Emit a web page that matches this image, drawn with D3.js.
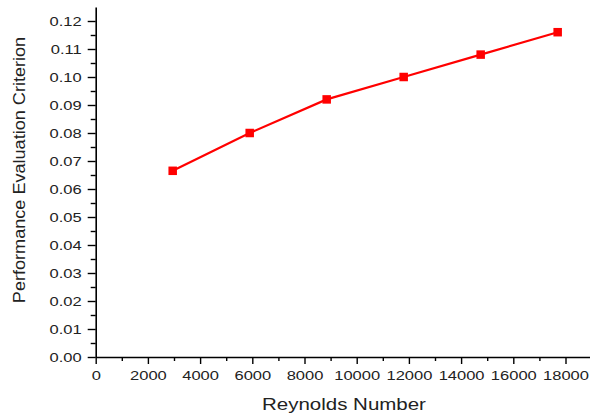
<!DOCTYPE html>
<html>
<head>
<meta charset="utf-8">
<script src="https://cdn.jsdelivr.net/npm/d3@7"></script>
<style>
  html, body { margin: 0; padding: 0; background: #fff; }
  svg { display: block; }
  text { font-family: "Liberation Sans", Arial, sans-serif; fill: #222; }
</style>
</head>
<body>
<svg id="chart" width="590" height="415"></svg>
<script>
// Performance evaluation criterion against Reynolds number
const reynolds = [2950, 5900, 8850, 11800, 14750, 17700];
const pec = [0.0665, 0.0800, 0.0920, 0.1000, 0.1080, 0.1160];

const xTicks = [0, 2000, 4000, 6000, 8000, 10000, 12000, 14000, 16000, 18000];
const xMinor = [1000, 3000, 5000, 7000, 9000, 11000, 13000, 15000, 17000];
const yTicks = [0, 0.01, 0.02, 0.03, 0.04, 0.05, 0.06, 0.07, 0.08, 0.09, 0.10, 0.11, 0.12];
const yMinor = [0.005, 0.015, 0.025, 0.035, 0.045, 0.055, 0.065, 0.075, 0.085, 0.095, 0.105, 0.115];

const xTitle = "Reynolds Number";
const yTitle = "Performance Evaluation Criterion";

const svg = d3.select("#chart");

const x = d3.scaleLinear().domain([0, 19000]).range([95.7, 591.6]);
const y = d3.scaleLinear().domain([0, 0.125]).range([357, 7]);

// widen text horizontally by a factor
function stretch(sel, k) {
  sel.each(function () {
    const w = this.getComputedTextLength();
    d3.select(this).attr("textLength", w * k).attr("lengthAdjust", "spacingAndGlyphs");
  });
}

// minor ticks
svg.append("g")
  .attr("transform", `translate(0,${y(0)})`)
  .call(d3.axisBottom(x).tickValues(xMinor).tickSize(4).tickFormat(""))
  .call(g => g.select(".domain").remove())
  .call(g => g.selectAll("line").attr("stroke", "#000").attr("stroke-width", 1.4));

svg.append("g")
  .attr("transform", `translate(${x(0)},0)`)
  .call(d3.axisLeft(y).tickValues(yMinor).tickSize(5).tickFormat(""))
  .call(g => g.select(".domain").remove())
  .call(g => g.selectAll("line").attr("stroke", "#000").attr("stroke-width", 1.4));

// major x axis
const gx = svg.append("g")
  .attr("transform", `translate(0,${y(0)})`)
  .call(d3.axisBottom(x).tickValues(xTicks).tickSize(7).tickSizeOuter(0).tickPadding(7).tickFormat(d3.format("d")));
gx.select(".domain").attr("stroke", "#000").attr("stroke-width", 1.6);
gx.selectAll(".tick line").attr("stroke", "#000").attr("stroke-width", 1.4);
gx.selectAll(".tick text")
  .attr("font-size", 12.5)
  .attr("font-family", "Liberation Sans, Arial, sans-serif")
  .attr("fill", "#222")
  .call(stretch, 1.32);

// major y axis
const gy = svg.append("g")
  .attr("transform", `translate(${x(0)},0)`)
  .call(d3.axisLeft(y).tickValues(yTicks).tickSize(8).tickSizeOuter(0).tickPadding(6).tickFormat(d3.format(".2f")));
gy.select(".domain").attr("stroke", "#000").attr("stroke-width", 1.6);
gy.selectAll(".tick line").attr("stroke", "#000").attr("stroke-width", 1.4);
gy.selectAll(".tick text")
  .attr("font-size", 12.5)
  .attr("font-family", "Liberation Sans, Arial, sans-serif")
  .attr("fill", "#222")
  .call(stretch, 1.32);

// axis titles
svg.append("text")
  .attr("x", 344)
  .attr("y", 410)
  .attr("text-anchor", "middle")
  .attr("font-size", 16)
  .text(xTitle)
  .call(stretch, 1.28);

svg.append("text")
  .attr("transform", "translate(25,170) rotate(-90)")
  .attr("text-anchor", "middle")
  .attr("font-size", 16)
  .text(yTitle)
  .call(stretch, 1.13);

// series line and markers
const pts = reynolds.map((r, i) => [r, pec[i]]);

svg.append("path")
  .datum(pts)
  .attr("fill", "none")
  .attr("stroke", "#ff0000")
  .attr("stroke-width", 2.2)
  .attr("d", d3.line().x(d => x(d[0])).y(d => y(d[1])));

const s = 8.5;
svg.append("g")
  .selectAll("rect")
  .data(pts)
  .join("rect")
  .attr("x", d => x(d[0]) - s / 2)
  .attr("y", d => y(d[1]) - s / 2)
  .attr("width", s)
  .attr("height", s)
  .attr("fill", "#ff0000");
</script>
</body>
</html>
